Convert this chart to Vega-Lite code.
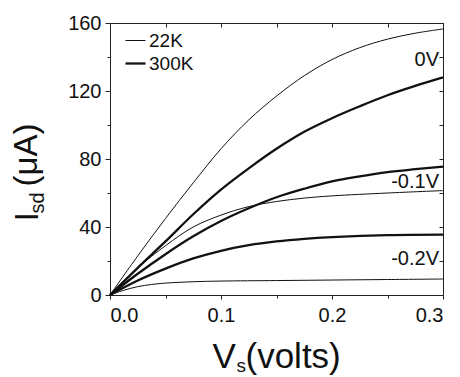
{
  "$schema": "https://vega.github.io/schema/vega-lite/v6.json",
  "autosize": {"type": "none"},
  "padding": {"left": 110, "top": 23, "right": 17, "bottom": 82},
  "width": 333,
  "height": 272,
  "config": {
    "view": {"stroke": null},
    "font": "Liberation Sans",
    "axis": {"grid": false, "domainColor": "#222", "tickColor": "#222", "labelColor": "#111", "titleColor": "#111", "labelFont": "Liberation Sans", "titleFont": "Liberation Sans", "titleFontWeight": "normal"},
    "legend": {"labelFont": "Liberation Sans"}
  },
  "datasets": {
    "curves": [
      {"T": "22K", "g": "0V", "v": 0, "i": 0},
      {"T": "22K", "g": "0V", "v": 0.025, "i": 23},
      {"T": "22K", "g": "0V", "v": 0.05, "i": 45},
      {"T": "22K", "g": "0V", "v": 0.075, "i": 66},
      {"T": "22K", "g": "0V", "v": 0.1, "i": 86},
      {"T": "22K", "g": "0V", "v": 0.125, "i": 103},
      {"T": "22K", "g": "0V", "v": 0.15, "i": 117},
      {"T": "22K", "g": "0V", "v": 0.175, "i": 129},
      {"T": "22K", "g": "0V", "v": 0.2, "i": 138.5},
      {"T": "22K", "g": "0V", "v": 0.225, "i": 145.5},
      {"T": "22K", "g": "0V", "v": 0.25, "i": 150.5},
      {"T": "22K", "g": "0V", "v": 0.275, "i": 154},
      {"T": "22K", "g": "0V", "v": 0.3, "i": 156.5},
      {"T": "300K", "g": "0V", "v": 0, "i": 0},
      {"T": "300K", "g": "0V", "v": 0.025, "i": 16},
      {"T": "300K", "g": "0V", "v": 0.05, "i": 31.5},
      {"T": "300K", "g": "0V", "v": 0.075, "i": 47.5},
      {"T": "300K", "g": "0V", "v": 0.1, "i": 62},
      {"T": "300K", "g": "0V", "v": 0.125, "i": 74.5},
      {"T": "300K", "g": "0V", "v": 0.15, "i": 86},
      {"T": "300K", "g": "0V", "v": 0.175, "i": 96},
      {"T": "300K", "g": "0V", "v": 0.2, "i": 104},
      {"T": "300K", "g": "0V", "v": 0.225, "i": 111},
      {"T": "300K", "g": "0V", "v": 0.25, "i": 117.5},
      {"T": "300K", "g": "0V", "v": 0.275, "i": 123},
      {"T": "300K", "g": "0V", "v": 0.3, "i": 128},
      {"T": "22K", "g": "-0.1V", "v": 0, "i": 0},
      {"T": "22K", "g": "-0.1V", "v": 0.025, "i": 16},
      {"T": "22K", "g": "-0.1V", "v": 0.05, "i": 29},
      {"T": "22K", "g": "-0.1V", "v": 0.075, "i": 40},
      {"T": "22K", "g": "-0.1V", "v": 0.1, "i": 47},
      {"T": "22K", "g": "-0.1V", "v": 0.125, "i": 52},
      {"T": "22K", "g": "-0.1V", "v": 0.15, "i": 55},
      {"T": "22K", "g": "-0.1V", "v": 0.175, "i": 57},
      {"T": "22K", "g": "-0.1V", "v": 0.2, "i": 58.3},
      {"T": "22K", "g": "-0.1V", "v": 0.25, "i": 60},
      {"T": "22K", "g": "-0.1V", "v": 0.3, "i": 61.4},
      {"T": "300K", "g": "-0.1V", "v": 0, "i": 0},
      {"T": "300K", "g": "-0.1V", "v": 0.025, "i": 12.5},
      {"T": "300K", "g": "-0.1V", "v": 0.05, "i": 24},
      {"T": "300K", "g": "-0.1V", "v": 0.075, "i": 34.5},
      {"T": "300K", "g": "-0.1V", "v": 0.1, "i": 43.5},
      {"T": "300K", "g": "-0.1V", "v": 0.125, "i": 51},
      {"T": "300K", "g": "-0.1V", "v": 0.15, "i": 57.5},
      {"T": "300K", "g": "-0.1V", "v": 0.175, "i": 62.5},
      {"T": "300K", "g": "-0.1V", "v": 0.2, "i": 66.8},
      {"T": "300K", "g": "-0.1V", "v": 0.225, "i": 69.8},
      {"T": "300K", "g": "-0.1V", "v": 0.25, "i": 72.3},
      {"T": "300K", "g": "-0.1V", "v": 0.275, "i": 74},
      {"T": "300K", "g": "-0.1V", "v": 0.3, "i": 75.5},
      {"T": "300K", "g": "-0.2V", "v": 0, "i": 0},
      {"T": "300K", "g": "-0.2V", "v": 0.025, "i": 8.5},
      {"T": "300K", "g": "-0.2V", "v": 0.05, "i": 15.5},
      {"T": "300K", "g": "-0.2V", "v": 0.075, "i": 21.5},
      {"T": "300K", "g": "-0.2V", "v": 0.1, "i": 26},
      {"T": "300K", "g": "-0.2V", "v": 0.125, "i": 29.3},
      {"T": "300K", "g": "-0.2V", "v": 0.15, "i": 31.5},
      {"T": "300K", "g": "-0.2V", "v": 0.175, "i": 33},
      {"T": "300K", "g": "-0.2V", "v": 0.2, "i": 34},
      {"T": "300K", "g": "-0.2V", "v": 0.25, "i": 35.2},
      {"T": "300K", "g": "-0.2V", "v": 0.3, "i": 35.5},
      {"T": "22K", "g": "-0.2V", "v": 0, "i": 0},
      {"T": "22K", "g": "-0.2V", "v": 0.0125, "i": 2.8},
      {"T": "22K", "g": "-0.2V", "v": 0.025, "i": 4.9},
      {"T": "22K", "g": "-0.2V", "v": 0.0375, "i": 6.2},
      {"T": "22K", "g": "-0.2V", "v": 0.05, "i": 7},
      {"T": "22K", "g": "-0.2V", "v": 0.075, "i": 7.8},
      {"T": "22K", "g": "-0.2V", "v": 0.1, "i": 8.2},
      {"T": "22K", "g": "-0.2V", "v": 0.15, "i": 8.5},
      {"T": "22K", "g": "-0.2V", "v": 0.2, "i": 8.8},
      {"T": "22K", "g": "-0.2V", "v": 0.25, "i": 9.1},
      {"T": "22K", "g": "-0.2V", "v": 0.3, "i": 9.4}
    ],
    "labels": [
      {"label": "0V", "v": 0.3, "i": 134.5},
      {"label": "-0.1V", "v": 0.3, "i": 62.8},
      {"label": "-0.2V", "v": 0.3, "i": 17.6}
    ]
  },
  "resolve": {"axis": {"x": "independent", "y": "independent"}},
  "layer": [
    {
      "data": {"name": "curves"},
      "mark": {"type": "line", "interpolate": "catmull-rom", "color": "#111"},
      "encoding": {
        "x": {"field": "v", "type": "quantitative", "scale": {"domain": [0, 0.3], "nice": false},
          "axis": {"orient": "bottom", "values": [0, 0.1, 0.2, 0.3], "format": ".1f", "labelFontSize": 20, "tickSize": 4, "labelPadding": 6, "title": "V", "titleFontSize": 35, "titleAlign": "left", "titleBaseline": "alphabetic", "titleX": 102, "titleY": 72}},
        "y": {"field": "i", "type": "quantitative", "scale": {"domain": [0, 160], "nice": false},
          "axis": {"orient": "left", "values": [0, 40, 80, 120, 160], "labelFontSize": 20, "tickSize": 5, "labelPadding": 4, "title": "I", "titleFontSize": 34, "titleAngle": -90, "titleAlign": "left", "titleBaseline": "alphabetic", "titleX": -73, "titleY": 198}},
        "detail": {"field": "g"},
        "strokeWidth": {"field": "T", "type": "nominal", "scale": {"domain": ["22K", "300K"], "range": [1, 2.3]},
          "legend": {"title": null, "orient": "none", "legendX": 14, "legendY": 7, "symbolType": "stroke", "symbolSize": 400, "symbolStrokeColor": "#111", "labelFontSize": 19, "labelColor": "#111", "labelOffset": 2, "rowPadding": 1, "padding": 0}}
      }
    },
    {
      "data": {"name": "curves"},
      "mark": {"type": "point", "opacity": 0},
      "encoding": {
        "x": {"field": "v", "type": "quantitative",
          "axis": {"orient": "bottom", "values": [0.05, 0.15, 0.25], "labels": false, "domain": false, "tickSize": 3, "title": "s", "titleFontSize": 19, "titleAlign": "left", "titleBaseline": "alphabetic", "titleX": 126, "titleY": 76}},
        "y": {"field": "i", "type": "quantitative",
          "axis": {"orient": "left", "values": [20, 60, 100, 140], "labels": false, "domain": false, "tickSize": 3, "title": "sd", "titleFontSize": 20, "titleAngle": -90, "titleAlign": "left", "titleBaseline": "alphabetic", "titleX": -67, "titleY": 190}}
      }
    },
    {
      "data": {"name": "curves"},
      "mark": {"type": "point", "opacity": 0},
      "encoding": {
        "x": {"field": "v", "type": "quantitative",
          "axis": {"orient": "top", "values": [0, 0.05, 0.1, 0.15, 0.2, 0.25, 0.3], "labels": false, "tickSize": -4, "title": null}},
        "y": {"field": "i", "type": "quantitative",
          "axis": {"orient": "right", "values": [0, 20, 40, 60, 80, 100, 120, 140, 160], "labels": false, "tickSize": -4, "title": null}}
      }
    },
    {
      "data": {"name": "curves"},
      "mark": {"type": "point", "opacity": 0},
      "encoding": {
        "x": {"field": "v", "type": "quantitative",
          "axis": {"orient": "bottom", "labels": false, "domain": false, "ticks": false, "title": "(volts)", "titleFontSize": 35, "titleAlign": "left", "titleBaseline": "alphabetic", "titleX": 135, "titleY": 72}},
        "y": {"field": "i", "type": "quantitative",
          "axis": {"orient": "left", "labels": false, "domain": false, "ticks": false, "title": "(μA)", "titleFontSize": 33, "titleAngle": -90, "titleAlign": "left", "titleBaseline": "alphabetic", "titleX": -73.5, "titleY": 163}}
      }
    },
    {
      "data": {"name": "labels"},
      "mark": {"type": "text", "align": "right", "baseline": "alphabetic", "dx": -4, "fontSize": 20, "color": "#111", "font": "Liberation Sans"},
      "encoding": {
        "x": {"field": "v", "type": "quantitative", "axis": null},
        "y": {"field": "i", "type": "quantitative", "axis": null},
        "text": {"field": "label"}
      }
    }
  ]
}
